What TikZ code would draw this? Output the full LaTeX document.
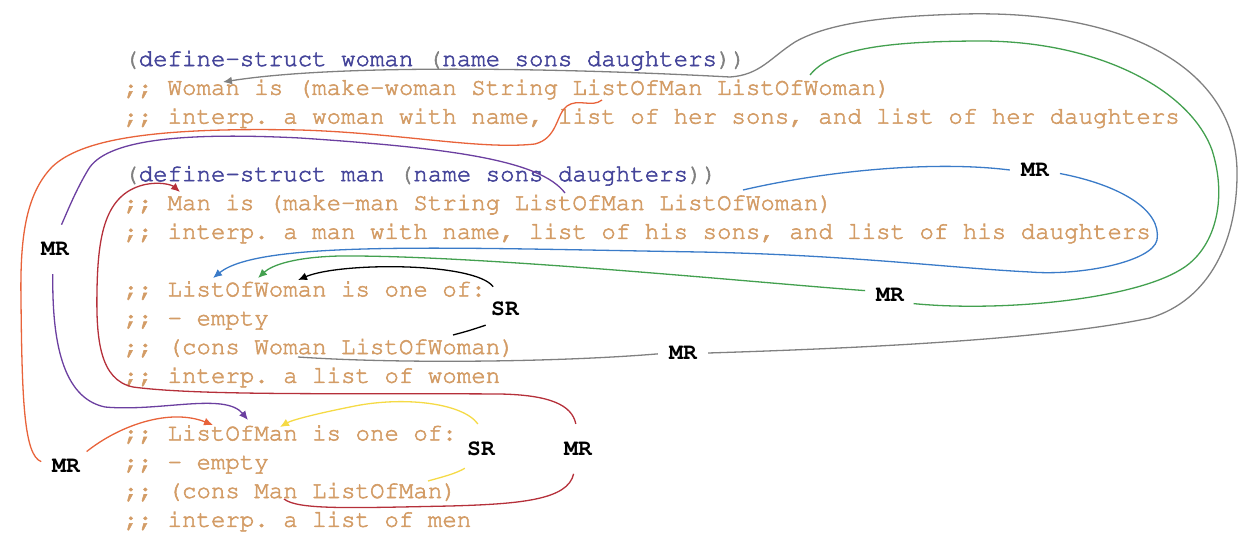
\documentclass[tikz,border=0pt]{standalone}
\usepackage[T1]{fontenc}
\usetikzlibrary{arrows.meta}
\definecolor{cmt}{HTML}{D39C66}
\definecolor{kw}{HTML}{45459A}
\definecolor{par}{HTML}{808080}
\definecolor{gcol}{HTML}{808080}
\definecolor{grcol}{HTML}{43A04F}
\definecolor{bcol}{HTML}{3A7BC8}
\definecolor{ocol}{HTML}{E8633A}
\definecolor{pcol}{HTML}{6B3FA0}
\definecolor{rcol}{HTML}{B5303A}
\definecolor{ycol}{HTML}{F5DA45}
\newcommand\codefont{\fontencoding{T1}\fontfamily{pcr}\fontseries{m}\fontshape{n}\fontsize{24.1}{28.8}\selectfont\frenchspacing}
\newcommand\lblfont{\fontencoding{T1}\fontfamily{pcr}\fontseries{b}\fontshape{n}\fontsize{23}{23}\selectfont}
\newcommand\pp[1]{\textcolor{par}{#1}}
\newcommand\thickon{\special{pdf:literal direct 2 Tr 0.55 w}}
\newcommand\thickoff{\special{pdf:literal direct 0 Tr}}
\begin{document}
\begin{tikzpicture}[x=1pt,y=-1pt,
  code/.style={anchor=base west, inner sep=0pt, font=\codefont, text=cmt,
    execute at begin node=\thickon, execute at end node=\thickoff},
  kwline/.style={code, text=kw},
  lbl/.style={circle, minimum size=50pt, inner sep=0pt, font=\lblfont},
  conn/.style={line width=1.3pt},
  tip/.style={-{Latex[length=9pt,width=8pt]}}]
\path[use as bounding box] (0,0) rectangle (1254,554);
% code lines
\node[kwline] (l1) at (124,66) {\pp{(}def{}ine-struct woman \pp{(}name sons daughters\pp{))}};
\node[code] (l2) at (124,94.8) {;; Woman is (make-woman String ListOfMan ListOfWoman)};
\node[code] (l3) at (124,123.6) {;; interp. a woman with name, list of her sons, and list of her daughters};
\node[kwline] (l4) at (124,181.2) {\pp{(}def{}ine-struct man \pp{(}name sons daughters\pp{))}};
\node[code] (l5) at (124,210) {;; Man is (make-man String ListOfMan ListOfWoman)};
\node[code] (l6) at (124,238.8) {;; interp. a man with name, list of his sons, and list of his daughters};
\node[code] (l7) at (124,296.4) {;; ListOfWoman is one of:};
\node[code] (l8) at (124,325.2) {;; - empty};
\node[code] (l9) at (124,354) {;; (cons Woman ListOfWoman)};
\node[code] (l10) at (124,382.8) {;; interp. a list of women};
\node[code] (l11) at (124,440.4) {;; ListOfMan is one of:};
\node[code] (l12) at (124,469.2) {;; - empty};
\node[code] (l13) at (124,498) {;; (cons Man ListOfMan)};
\node[code] (l14) at (124,526.8) {;; interp. a list of men};
% labels
\node[lbl] (mrG) at (683,353) {MR};
\node[lbl] (mrGr) at (890,295) {MR};
\node[lbl] (mrB) at (1035,170) {MR};
\node[lbl] (mrS1) at (505,309) {SR};
\node[lbl] (mrP) at (55,249) {MR};
\node[lbl] (mrO) at (66,466) {MR};
\node[lbl] (mrR) at (578,449) {MR};
\node[lbl] (mrY) at (481,449) {SR};
% end points
\coordinate (gS) at (298,357);  \coordinate (gT) at (223,82);
\coordinate (grS) at (810,75);  \coordinate (grT) at (258,278);
\coordinate (bS) at (743,190);  \coordinate (bT) at (213,278);
\coordinate (kS) at (453,335);  \coordinate (kT) at (298,280);
\coordinate (pS) at (565,193);  \coordinate (pT) at (248,420);
\coordinate (oS) at (602,100);  \coordinate (oT) at (213,425);
\coordinate (rS) at (284,499);  \coordinate (rT) at (180,192);
\coordinate (yS) at (428,481);  \coordinate (yT) at (280,427);
% gray
\draw[conn,gcol] (gS) .. controls (400,364) and (560,362) .. (mrG.182);
\draw[conn,gcol,tip] (mrG.0) .. controls (900,347) and (1060,337) .. (1150,318)
  .. controls (1210,300) and (1238,240) .. (1237,170)
  .. controls (1235,70) and (1130,10) .. (964,14)
  .. controls (890,16) and (830,22) .. (795,42)
  .. controls (770,58) and (760,75) .. (730,77)
  .. controls (600,70) and (350,62) .. (gT);
% green
\draw[conn,grcol] (grS) .. controls (830,50) and (880,41) .. (984,41)
  .. controls (1100,42) and (1190,90) .. (1212,150)
  .. controls (1228,200) and (1215,250) .. (1180,270)
  .. controls (1130,300) and (1000,312) .. (mrGr.-20);
\draw[conn,grcol,tip] (mrGr.170) .. controls (760,283) and (480,255) .. (340,256)
  .. controls (295,257) and (272,265) .. (grT);
% blue
\draw[conn,bcol] (bS) .. controls (820,172) and (930,160) .. (mrB.180);
\draw[conn,bcol,tip] (mrB.-8) .. controls (1120,185) and (1162,210) .. (1157,240)
  .. controls (1152,262) and (1080,276) .. (1030,272)
  .. controls (950,268) and (850,255) .. (700,252)
  .. controls (450,248) and (260,240) .. (bT);
% black
\draw[conn,black] (kS) .. controls (468,331) .. (mrS1.220);
\draw[conn,black,tip] (mrS1.118) .. controls (475,262) and (340,262) .. (kT);
% purple
\draw[conn,pcol] (pS) .. controls (540,160) and (450,148) .. (300,138)
  .. controls (180,132) and (105,140) .. (88,170)
  .. controls (76,190) and (68,210) .. (mrP.75);
\draw[conn,pcol,tip] (mrP.-95) .. controls (52,340) and (62,398) .. (105,407)
  .. controls (160,412) and (225,392) .. (pT);
% orange
\draw[conn,ocol] (oS) .. controls (592,108) and (578,98) .. (567,106)
  .. controls (556,114) and (558,138) .. (535,144)
  .. controls (480,150) and (400,133) .. (300,130)
  .. controls (150,127) and (80,140) .. (52,167)
  .. controls (25,195) and (20,240) .. (21,300)
  .. controls (22,400) and (24,455) .. (mrO.170);
\draw[conn,ocol,tip] (mrO.35) .. controls (120,425) and (170,408) .. (oT);
% red
\draw[conn,rcol] (rS) .. controls (298,510) and (350,508) .. (450,506)
  .. controls (520,504) and (568,500) .. (mrR.-100);
\draw[conn,rcol,tip] (mrR.95) .. controls (572,405) and (550,395) .. (500,394)
  .. controls (350,393) and (200,396) .. (133,387)
  .. controls (100,380) and (96,340) .. (97,290)
  .. controls (98,235) and (105,195) .. (143,185)
  .. controls (160,181) and (172,185) .. (rT);
% yellow
\draw[conn,ycol] (yS) .. controls (442,477) and (455,474) .. (mrY.230);
\draw[conn,ycol,tip] (mrY.97) .. controls (462,402) and (400,396) .. (350,407)
  .. controls (315,414) and (292,420) .. (yT);
\end{tikzpicture}
\end{document}
